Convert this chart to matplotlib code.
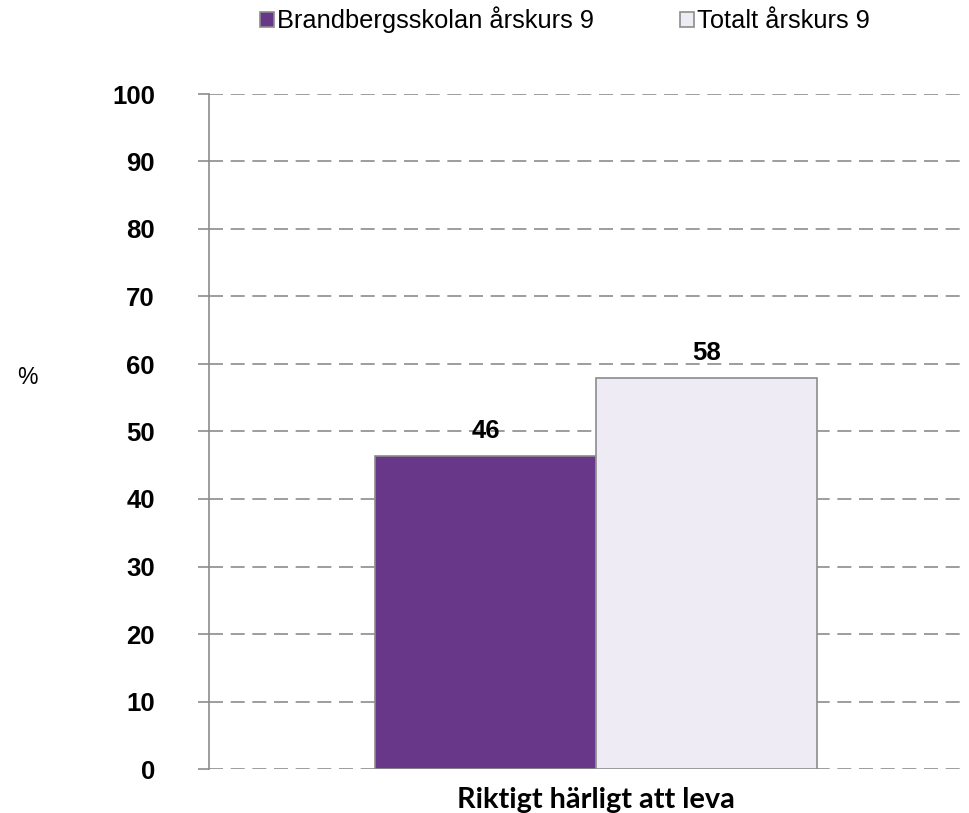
import matplotlib.pyplot as plt

# Data
category = "Riktigt härligt att leva"
series = ["Brandbergsskolan årskurs 9", "Totalt årskurs 9"]
values = [46.4, 57.9]
labels = ["46", "58"]
colors = ["#68378A", "#EFEBF4"]
yticks = [0, 10, 20, 30, 40, 50, 60, 70, 80, 90, 100]

plt.rcParams['font.family'] = ['Liberation Sans', 'DejaVu Sans']

fig = plt.figure(figsize=(9.69, 8.13), dpi=100)
ax = fig.add_axes([209 / 969, 1 - 769 / 813, 756 / 969, 675 / 813])

width = 221 / 756
offsets = [-width / 2, width / 2]
for off, v, lab, c, name in zip(offsets, values, labels, colors, series):
    ax.bar(off, v, width=width, color=c, edgecolor="#8c8c8c", linewidth=1.2,
           label=name, zorder=3)
    ax.text(off, v + 1.9, lab, ha="center", va="bottom", fontsize=18.5,
            fontweight="bold", zorder=4)

ax.set_xlim(-0.512, 0.488)
ax.set_ylim(0, 100)
ax.set_yticks(yticks)
ax.set_yticklabels([str(t) for t in yticks], fontsize=18.5, fontweight="bold")
ax.tick_params(axis="y", length=8, color="#8c8c8c", width=1.2, pad=31)
ax.set_xticks([])

ax.yaxis.grid(True, linestyle=(0, (8.4, 4.6)), color="#8c8c8c", linewidth=1.2, zorder=0)
ax.set_axisbelow(True)
for s in ["top", "right", "bottom"]:
    ax.spines[s].set_visible(False)
ax.spines["left"].set_color("#8c8c8c")
ax.spines["left"].set_linewidth(1.2)

fig.text(596 / 969, 1 - 800 / 813, category, ha="center", va="center",
         fontsize=20.8, fontweight="bold", family=["Lato", "DejaVu Sans"])
fig.text(27 / 969, 1 - 378 / 813, "%", ha="center", va="center", fontsize=16.5)

fig.legend(loc="center", bbox_to_anchor=(565 / 969, 1 - 20 / 813), ncol=2,
           frameon=False, fontsize=18.3, handlelength=0.55, handleheight=0.55,
           handletextpad=0.15, columnspacing=3.35)

fig.savefig("out.png", dpi=100)
